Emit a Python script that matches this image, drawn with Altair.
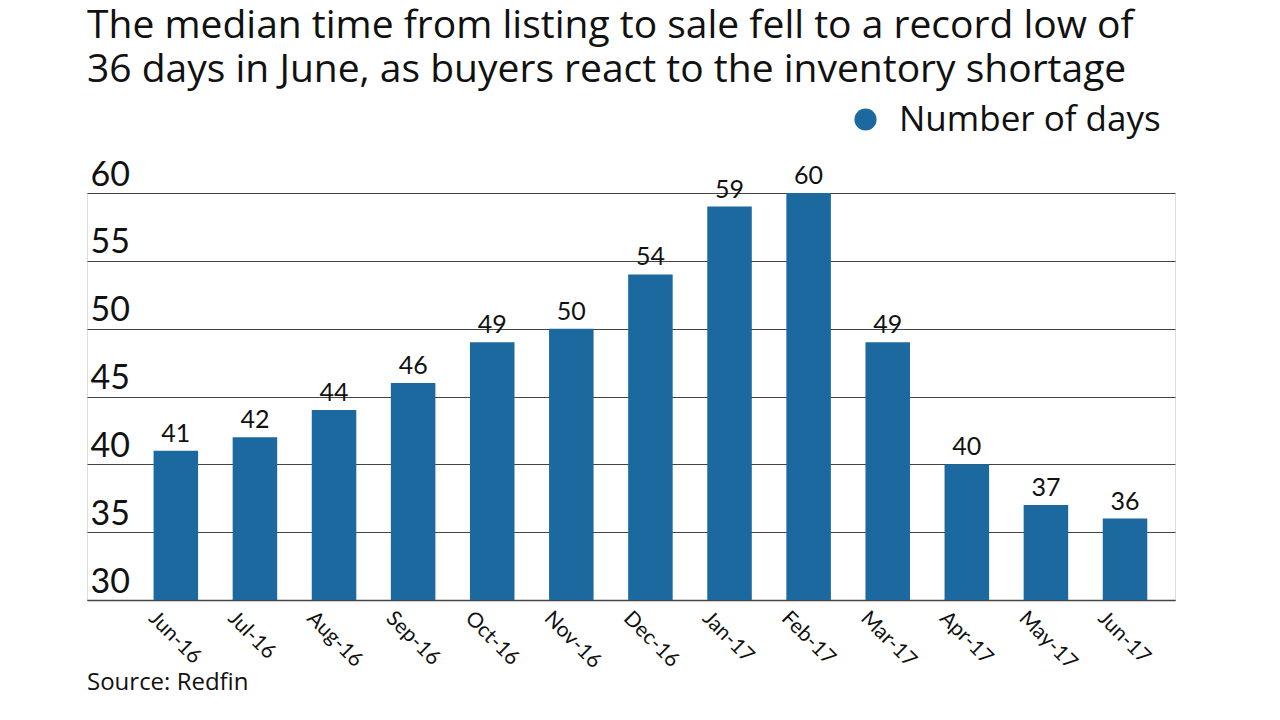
import altair as alt
import pandas as pd

months = ["Jun-16", "Jul-16", "Aug-16", "Sep-16", "Oct-16", "Nov-16", "Dec-16",
          "Jan-17", "Feb-17", "Mar-17", "Apr-17", "May-17", "Jun-17"]
days = [41, 42, 44, 46, 49, 50, 54, 59, 60, 49, 40, 37, 36]
series_name = "Number of days"
y_ticks = [30, 35, 40, 45, 50, 55, 60]
title_lines = ["The median time from listing to sale fell to a record low of",
               "36 days in June, as buyers react to the inventory shortage"]
source_text = "Source: Redfin"

BLUE = "#1c69a0"
FONT = "Lato"
FONT2 = "Open Sans"

df = pd.DataFrame({"month": months, "days": days, "series": [series_name] * len(months)})

x_enc = alt.X(
    "month:N", sort=months, title=None,
    scale=alt.Scale(paddingInner=0.437, paddingOuter=0.596, align=0.706),
    axis=alt.Axis(labelAngle=45, labelAlign="left", labelBaseline="top",
                  labelFontSize=21, labelFont=FONT, labelColor="#111",
                  labelPadding=7, labelOffset=-16, ticks=False,
                  domainColor="#444", domainWidth=1.5, grid=False),
)
y_enc = alt.Y(
    "days:Q", title=None,
    scale=alt.Scale(domain=[30, 60], nice=False, zero=False),
    axis=alt.Axis(values=y_ticks, orient="left", labelAlign="left",
                  labelBaseline="alphabetic", labelPadding=-3, labelOffset=-8,
                  labelFontSize=34, labelFont=FONT, labelColor="#111",
                  ticks=False, tickSize=0, domain=False,
                  grid=True, gridColor="#444", gridWidth=1),
)

base = alt.Chart(df)

bars = base.mark_bar().encode(
    x=x_enc,
    y=y_enc,
    y2=alt.datum(30),
    color=alt.Color("series:N", title=None,
                    scale=alt.Scale(range=[BLUE]),
                    legend=alt.Legend(orient="none", legendX=761, legendY=-91,
                                      symbolType="circle", symbolSize=490,
                                      symbolStrokeWidth=0, symbolFillColor=BLUE,
                                      labelFontSize=35, labelFont=FONT2,
                                      labelColor="#111", labelOffset=16,
                                      labelLimit=500, padding=0)),
)

labels = base.mark_text(baseline="alphabetic", dy=-9, fontSize=25, font=FONT,
                        color="#111").encode(
    x=alt.X("month:N", sort=months),
    y=alt.Y("days:Q"),
    text=alt.Text("days:Q"),
)

source = alt.Chart(pd.DataFrame({"t": [source_text]})).mark_text(
    align="left", baseline="alphabetic", fontSize=24, font=FONT2, color="#111"
).encode(text="t:N", x=alt.value(0), y=alt.value(497))

chart = alt.layer(bars, labels, source).properties(
    width=1088, height=407,
    title=alt.TitleParams(text=title_lines, anchor="start", frame="group",
                          fontSize=39, font=FONT2, fontWeight="normal",
                          color="#111", lineHeight=44, offset=12),
    autosize=alt.AutoSizeParams(type="none"),
    padding={"left": 79, "top": 185, "right": 97, "bottom": 112},
).configure_view(stroke=None).configure(background="white")

chart.save("out.html", embed_options={"renderer": "svg", "actions": False})
